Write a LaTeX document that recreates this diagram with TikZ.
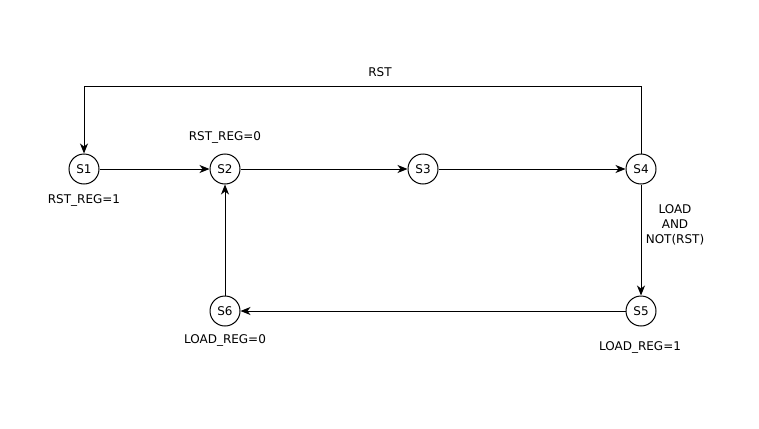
\documentclass[tikz,border=0pt]{standalone}
\usepackage{fontspec}
\setmainfont{DejaVu Sans}
\usetikzlibrary{arrows.meta}
\begin{document}
\begin{tikzpicture}[x=1pt, y=-1pt, line width=1pt,
	estado/.style={draw, circle, minimum size=30pt, inner sep=0pt},
	etiqueta/.style={inner sep=0pt, align=center},
	>={Stealth[length=10pt, width=8pt, inset=3pt]},
	font=\fontsize{12}{15}\selectfont]
	\useasboundingbox (0,0) rectangle (759,428);
	% Estados
		\node[estado] (S1) at (84,169) {S1};
		\node[estado] (S2) at (225,169) {S2};
		\node[estado] (S3) at (423,169) {S3};
		\node[estado] (S4) at (641,169) {S4};
		\node[estado] (S5) at (641,311) {S5};
		\node[estado] (S6) at (225,311) {S6};
	
	% Transiciones
		\draw[->] (S1) -- (S2);
		\draw[->] (S2) -- (S3);
		\draw[->] (S3) -- (S4);
		\draw[->] (S4) -- (S5);
		\draw[->] (S5) -- (S6);
		\draw[->] (S6) -- (S2);
		% Reset: S4 -> S1
			\coordinate (esqD) at (641,86);
			\coordinate (esqI) at (84,86);
			\draw[->] (S4) -- (esqD) -- (esqI) -- (S1);
	
	% Etiquetas
		\node[etiqueta] (rst) at (380,72) {RST};
		\node[etiqueta] (rstreg0) at (225,137) {RST\_REG=0};
		\node[etiqueta] (rstreg1) at (84,200) {RST\_REG=1};
		\node[etiqueta] (load) at (675,225) {LOAD\\AND\\NOT(RST)};
		\node[etiqueta] (loadreg1) at (640,347) {LOAD\_REG=1};
		\node[etiqueta] (loadreg0) at (225,340) {LOAD\_REG=0};
\end{tikzpicture}
\end{document}
